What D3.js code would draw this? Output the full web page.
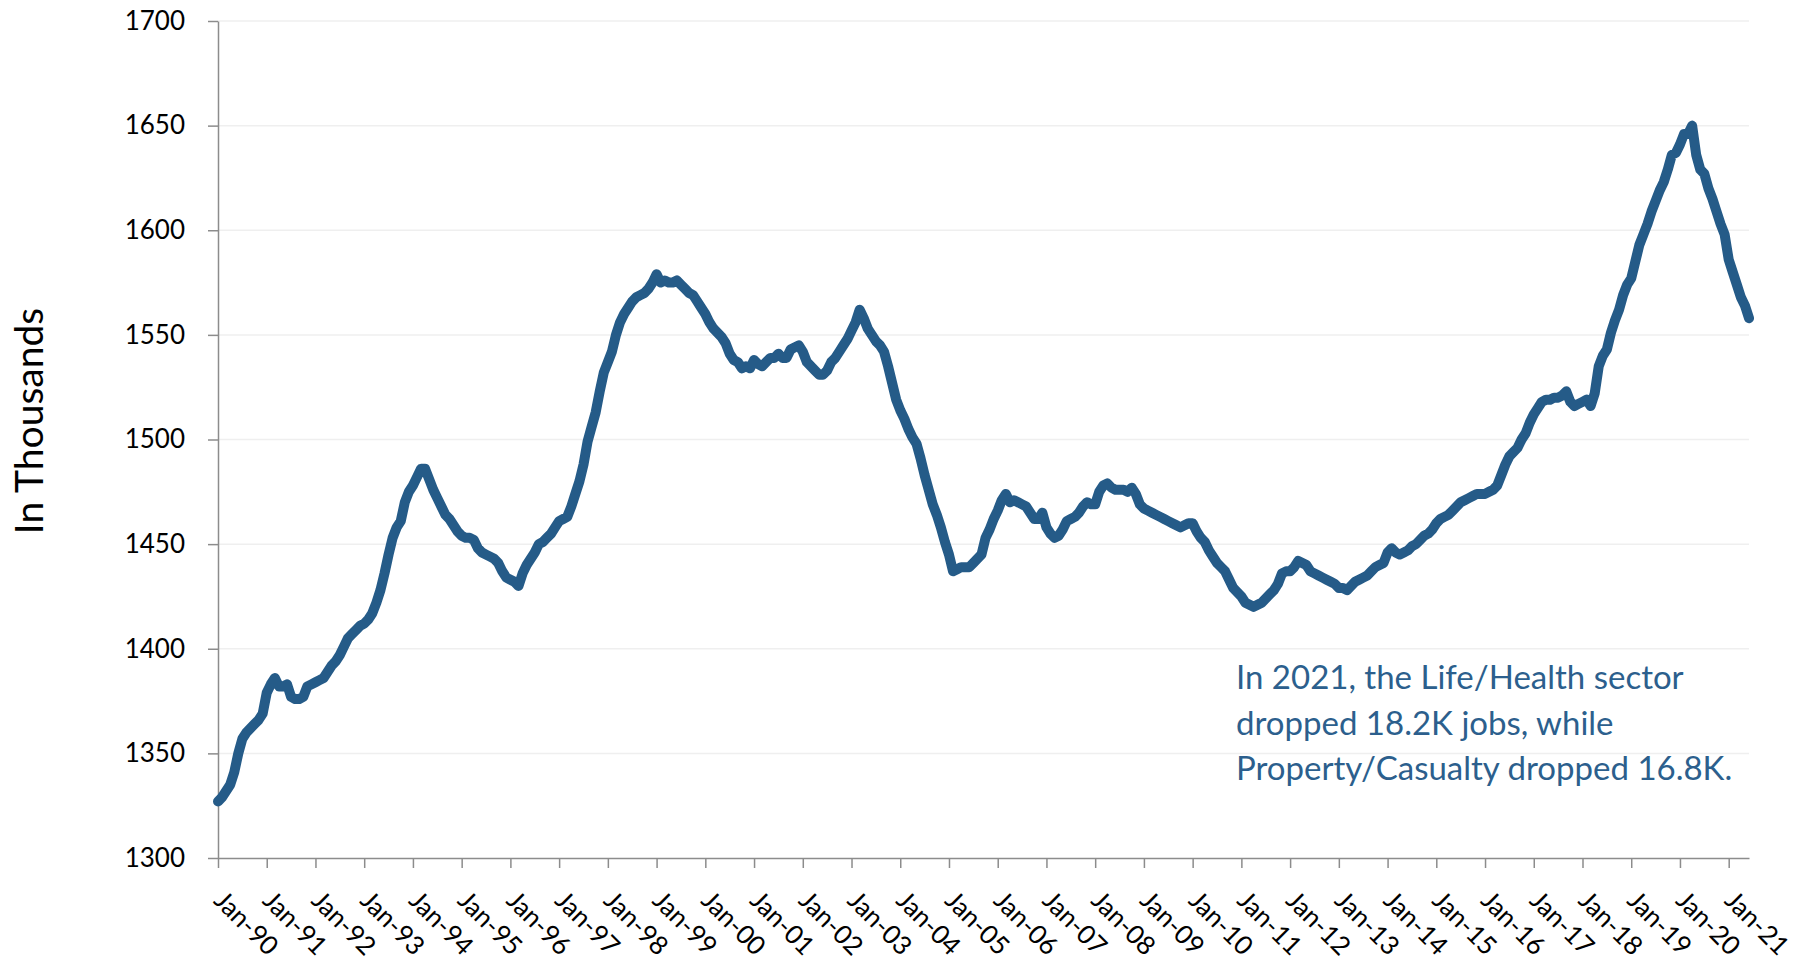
<!DOCTYPE html>
<html>
<head>
<meta charset="utf-8">
<script src="https://cdn.jsdelivr.net/npm/d3@7"></script>
<style>
  body { margin: 0; background: #fff; }
  text { font-family: Lato, "Open Sans", sans-serif; }
</style>
</head>
<body>
<div id="chart"></div>
<script>
/**
 * CONSTANTS AND GLOBALS
 * */
const width = 1808,
  height = 963,
  margin = { top: 21, bottom: 105, left: 218, right: 59 };

// monthly employment (thousands), Jan 1990 .. Jun 2021
const employment = [
  1327, 1329, 1332, 1335, 1341, 1350, 1357, 1360, 1362, 1364, 1366, 1369, // 1990
  1379, 1383, 1386, 1382, 1382, 1383, 1377, 1376, 1376, 1377, 1382, 1383, // 1991
  1384, 1385, 1386, 1389, 1392, 1394, 1397, 1401, 1405, 1407, 1409, 1411, // 1992
  1412, 1414, 1417, 1422, 1428, 1436, 1445, 1453, 1458, 1461, 1470, 1475, // 1993
  1478, 1482, 1486, 1486, 1481, 1476, 1472, 1468, 1464, 1462, 1459, 1456, // 1994
  1454, 1453, 1453, 1452, 1448, 1446, 1445, 1444, 1443, 1441, 1437, 1434, // 1995
  1433, 1432, 1430, 1436, 1440, 1443, 1446, 1450, 1451, 1453, 1455, 1458, // 1996
  1461, 1462, 1463, 1468, 1474, 1480, 1488, 1499, 1506, 1513, 1523, 1532, // 1997
  1537, 1542, 1550, 1556, 1560, 1563, 1566, 1568, 1569, 1570, 1572, 1575, // 1998
  1579, 1575, 1576, 1575, 1575, 1576, 1574, 1572, 1570, 1569, 1566, 1563, // 1999
  1560, 1556, 1553, 1551, 1549, 1546, 1541, 1538, 1537, 1534, 1535, 1534, // 2000
  1538, 1536, 1535, 1537, 1539, 1539, 1541, 1539, 1539, 1543, 1544, 1545, // 2001
  1542, 1537, 1535, 1533, 1531, 1531, 1533, 1537, 1539, 1542, 1545, 1548, // 2002
  1552, 1556, 1562, 1558, 1553, 1550, 1547, 1545, 1542, 1535, 1527, 1519, // 2003
  1514, 1510, 1505, 1501, 1498, 1491, 1483, 1476, 1469, 1464, 1458, 1451, // 2004
  1445, 1437, 1438, 1439, 1439, 1439, 1441, 1443, 1445, 1453, 1457, 1462, // 2005
  1466, 1471, 1474, 1470, 1471, 1470, 1469, 1468, 1465, 1462, 1462, 1465, // 2006
  1458, 1455, 1453, 1454, 1457, 1461, 1462, 1463, 1465, 1468, 1470, 1469, // 2007
  1469, 1475, 1478, 1479, 1477, 1476, 1476, 1476, 1475, 1477, 1474, 1469, // 2008
  1467, 1466, 1465, 1464, 1463, 1462, 1461, 1460, 1459, 1458, 1459, 1460, // 2009
  1460, 1456, 1453, 1451, 1447, 1444, 1441, 1439, 1437, 1433, 1429, 1427, // 2010
  1425, 1422, 1421, 1420, 1421, 1422, 1424, 1426, 1428, 1431, 1436, 1437, // 2011
  1437, 1439, 1442, 1441, 1440, 1437, 1436, 1435, 1434, 1433, 1432, 1431, // 2012
  1429, 1429, 1428, 1430, 1432, 1433, 1434, 1435, 1437, 1439, 1440, 1441, // 2013
  1446, 1448, 1446, 1445, 1446, 1447, 1449, 1450, 1452, 1454, 1455, 1457, // 2014
  1460, 1462, 1463, 1464, 1466, 1468, 1470, 1471, 1472, 1473, 1474, 1474, // 2015
  1474, 1475, 1476, 1478, 1483, 1488, 1492, 1494, 1496, 1500, 1503, 1508, // 2016
  1512, 1515, 1518, 1519, 1519, 1520, 1520, 1521, 1523, 1518, 1516, 1517, // 2017
  1518, 1519, 1516, 1522, 1535, 1540, 1543, 1551, 1557, 1562, 1569, 1574, // 2018
  1577, 1585, 1593, 1598, 1603, 1609, 1614, 1619, 1623, 1629, 1636, 1637, // 2019
  1641, 1646, 1646, 1650, 1636, 1629, 1627, 1620, 1615, 1609, 1603, 1598, // 2020
  1586, 1580, 1574, 1568, 1564, 1558                                      // 2021
];

const yTicks = [1300, 1350, 1400, 1450, 1500, 1550, 1600, 1650, 1700];

const xTickLabels = [
  "Jan-90", "Jan-91", "Jan-92", "Jan-93", "Jan-94", "Jan-95", "Jan-96", "Jan-97",
  "Jan-98", "Jan-99", "Jan-00", "Jan-01", "Jan-02", "Jan-03", "Jan-04", "Jan-05",
  "Jan-06", "Jan-07", "Jan-08", "Jan-09", "Jan-10", "Jan-11", "Jan-12", "Jan-13",
  "Jan-14", "Jan-15", "Jan-16", "Jan-17", "Jan-18", "Jan-19", "Jan-20", "Jan-21"
];

const yTitle = "In Thousands";

const noteLines = [
  "In 2021, the Life/Health sector",
  "dropped 18.2K jobs, while",
  "Property/Casualty dropped 16.8K."
];

const lineColor = "#255b88",
  noteColor = "#2c5f8d",
  axisColor = "#8c8c8c";

/**
 * SCALES
 * */
const x = d3.scaleLinear()
  .domain([0, employment.length - 1])
  .range([margin.left, width - margin.right]);

const y = d3.scaleLinear()
  .domain([1300, 1700])
  .range([height - margin.bottom, margin.top]);

/**
 * SVG
 * */
const svg = d3.select("#chart")
  .append("svg")
  .attr("width", width)
  .attr("height", height);

// gridlines
svg.append("g")
  .selectAll("line")
  .data(yTicks.slice(1))
  .join("line")
  .attr("x1", margin.left)
  .attr("x2", width - margin.right)
  .attr("y1", d => y(d))
  .attr("y2", d => y(d))
  .attr("stroke", "#efefef")
  .attr("stroke-width", 1.5);

// y axis
const yAxis = svg.append("g")
  .attr("transform", `translate(${margin.left},0)`)
  .call(d3.axisLeft(y).tickValues(yTicks).tickSize(10).tickSizeOuter(0).tickPadding(23).tickFormat(d3.format("d")));

yAxis.select(".domain").attr("stroke", axisColor).attr("stroke-width", 1.5);
yAxis.selectAll(".tick line").attr("stroke", axisColor).attr("stroke-width", 1.5);
yAxis.selectAll(".tick text")
  .attr("fill", "#000")
  .style("font-size", "26px");

// x axis
const xAxis = svg.append("g")
  .attr("transform", `translate(0,${height - margin.bottom})`)
  .call(d3.axisBottom(x)
    .tickValues(xTickLabels.map((d, i) => i * 12))
    .tickFormat((d, i) => xTickLabels[i])
    .tickSize(10)
    .tickSizeOuter(0));

xAxis.select(".domain").attr("stroke", axisColor).attr("stroke-width", 1.5);
xAxis.selectAll(".tick line").attr("stroke", axisColor).attr("stroke-width", 1.5);
xAxis.selectAll(".tick text")
  .attr("x", 0)
  .attr("y", 0)
  .attr("dy", 0)
  .attr("text-anchor", "start")
  .attr("transform", "translate(-6,44) rotate(45)")
  .attr("fill", "#000")
  .style("font-size", "26px");

// y title
svg.append("text")
  .attr("transform", `translate(43,421) rotate(-90)`)
  .attr("text-anchor", "middle")
  .attr("fill", "#000")
  .style("font-size", "39px")
  .text(yTitle);

// line
const lineGen = d3.line()
  .x((d, i) => x(i))
  .y(d => y(d));

svg.append("path")
  .datum(employment)
  .attr("d", lineGen)
  .attr("fill", "none")
  .attr("stroke", lineColor)
  .attr("stroke-width", 10)
  .attr("stroke-linejoin", "round")
  .attr("stroke-linecap", "round");

// annotation
svg.append("text")
  .attr("fill", noteColor)
  .style("font-size", "33px")
  .selectAll("tspan")
  .data(noteLines)
  .join("tspan")
  .attr("x", 1236)
  .attr("y", (d, i) => 689 + i * 45.5)
  .text(d => d);
</script>
</body>
</html>
